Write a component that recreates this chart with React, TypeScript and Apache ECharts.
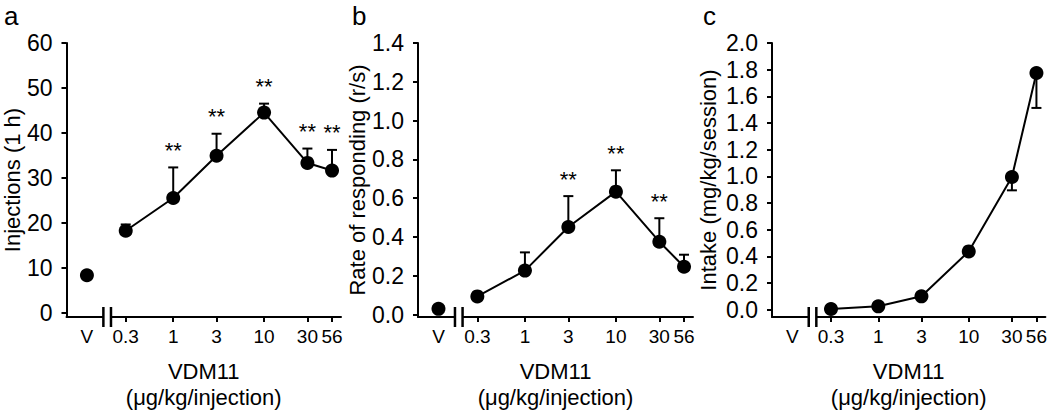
import { useEffect, useRef } from "react";
import * as echarts from "echarts";

// ---- data ----
const doses = [0.3, 1, 3, 10, 30, 56];
const doseLabels = ["0.3", "1", "3", "10", "30", "56"];
const vehicleLabel = "V";
const vehiclePos = -0.95; // position of the vehicle point on the (log10) broken axis
const breakPos = -0.727; // position of the axis break

const injections = [18.2, 25.5, 34.9, 44.5, 33.3, 31.6];
const injectionsSem = [1.4, 6.8, 4.9, 2.0, 3.2, 4.6];
const injectionsVehicle = 8.3;
const injectionsSig = [0, 1, 1, 1, 1, 1];
const injectionsTicks = [0, 10, 20, 30, 40, 50, 60];

const rate = [0.094, 0.227, 0.452, 0.634, 0.376, 0.247];
const rateSem = [0.008, 0.094, 0.159, 0.11, 0.121, 0.062];
const rateVehicle = 0.03;
const rateSig = [0, 0, 1, 1, 1, 0];
const rateTicks = [0, 0.2, 0.4, 0.6, 0.8, 1.0, 1.2, 1.4];

const intake = [0.005, 0.025, 0.1, 0.437, 0.995, 1.775];
const intakeSem = [0, 0, 0, 0, 0.1, 0.262];
const intakeSig = [0, 0, 0, 0, 0, 0];
const intakeTicks = [0, 0.2, 0.4, 0.6, 0.8, 1.0, 1.2, 1.4, 1.6, 1.8, 2.0];

const FONT = '"Liberation Sans", Arial, sans-serif';
const logDoses = doses.map((d) => Math.log10(d));

function xLabel(v: number) {
  if (Math.abs(v - vehiclePos) < 1e-6) return vehicleLabel;
  const i = logDoses.findIndex((l) => Math.abs(l - v) < 1e-6);
  return i >= 0 ? doseLabels[i] : "";
}

function makeXAxis(gridIndex: number) {
  return {
    type: "value",
    gridIndex,
    min: -1.175,
    max: 1.847,
    name: "VDM11\n(μg/kg/injection)",
    nameLocation: "middle",
    nameGap: 41,
    nameTextStyle: { fontSize: 22, lineHeight: 26, color: "#000", fontFamily: FONT },
    axisLine: { show: true, onZero: false, lineStyle: { color: "#000", width: 2 } },
    axisTick: {
      show: true,
      length: 5,
      lineStyle: { color: "#000", width: 2 },
      customValues: logDoses,
    },
    axisLabel: {
      show: true,
      margin: 10,
      fontSize: 19,
      color: "#000",
      fontFamily: FONT,
      customValues: [vehiclePos, ...logDoses],
      formatter: (v: number) => xLabel(v),
    },
    splitLine: { show: false },
  };
}

function makeYAxis(
  gridIndex: number,
  min: number,
  max: number,
  ticks: number[],
  decimals: number,
  name: string,
  nameGap: number
) {
  return {
    type: "value",
    gridIndex,
    min,
    max,
    name,
    nameLocation: "middle",
    nameGap,
    nameTextStyle: { fontSize: 22, color: "#000", fontFamily: FONT },
    axisLine: { show: true, onZero: false, lineStyle: { color: "#000", width: 2 } },
    axisTick: {
      show: true,
      length: 5,
      lineStyle: { color: "#000", width: 2 },
      customValues: ticks,
    },
    axisLabel: {
      show: true,
      margin: 14,
      fontSize: 23,
      color: "#000",
      fontFamily: FONT,
      customValues: ticks,
      formatter: (v: number) => v.toFixed(decimals),
    },
    splitLine: { show: false },
  };
}

function errorSeries(idx: number, means: number[], sems: number[], sig: number[], dir: number) {
  return {
    type: "custom",
    xAxisIndex: idx,
    yAxisIndex: idx,
    z: 1,
    clip: false,
    silent: true,
    encode: { x: 0, y: 1 },
    data: means.map((m, i) => [logDoses[i], m, sems[i], dir, sig[i]]),
    renderItem: (_params: any, api: any) => {
      const x = api.value(0);
      const m = api.value(1);
      const e = api.value(2);
      const d = api.value(3);
      const s = api.value(4);
      const p0 = api.coord([x, m]);
      const p1 = api.coord([x, m + d * e]);
      const children: any[] = [];
      if (e > 0) {
        children.push({
          type: "line",
          shape: { x1: p0[0], y1: p0[1], x2: p1[0], y2: p1[1] },
          style: { stroke: "#000", lineWidth: 2 },
        });
        children.push({
          type: "line",
          shape: { x1: p1[0] - 5, y1: p1[1], x2: p1[0] + 5, y2: p1[1] },
          style: { stroke: "#000", lineWidth: 2 },
        });
      }
      if (s) {
        children.push({
          type: "text",
          x: p1[0],
          y: p1[1] - 6,
          style: {
            text: "**",
            fill: "#000",
            fontSize: 22,
            fontFamily: FONT,
            align: "center",
            verticalAlign: "bottom",
          },
        });
      }
      return { type: "group", children };
    },
  };
}

function breakSeries(idx: number, yMin: number) {
  return {
    type: "custom",
    xAxisIndex: idx,
    yAxisIndex: idx,
    z: 5,
    clip: false,
    silent: true,
    encode: { x: 0, y: 1 },
    data: [[breakPos, yMin]],
    renderItem: (_params: any, api: any) => {
      const p = api.coord([api.value(0), api.value(1)]);
      return {
        type: "group",
        children: [
          {
            type: "rect",
            shape: { x: p[0] - 3.8, y: p[1] - 2, width: 7.6, height: 4 },
            style: { fill: "#fff" },
          },
          {
            type: "line",
            shape: { x1: p[0] - 3.8, y1: p[1] - 10, x2: p[0] - 3.8, y2: p[1] + 10 },
            style: { stroke: "#000", lineWidth: 2.5 },
          },
          {
            type: "line",
            shape: { x1: p[0] + 3.8, y1: p[1] - 10, x2: p[0] + 3.8, y2: p[1] + 10 },
            style: { stroke: "#000", lineWidth: 2.5 },
          },
        ],
      };
    },
  };
}

function lineSeries(idx: number, values: number[]) {
  return {
    type: "line",
    xAxisIndex: idx,
    yAxisIndex: idx,
    z: 3,
    data: values.map((v, i) => [logDoses[i], v]),
    symbol: "circle",
    symbolSize: 14,
    showAllSymbol: true,
    lineStyle: { color: "#000", width: 2 },
    itemStyle: { color: "#000", opacity: 1 },
  };
}

function vehicleSeries(idx: number, v: number) {
  return {
    type: "scatter",
    xAxisIndex: idx,
    yAxisIndex: idx,
    z: 3,
    data: [[vehiclePos, v]],
    symbol: "circle",
    symbolSize: 14,
    itemStyle: { color: "#000", opacity: 1 },
  };
}

export default function App() {
  const ref = useRef<HTMLDivElement>(null);
  useEffect(() => {
    if (!ref.current) return;
    const chart = echarts.init(ref.current, undefined, { renderer: "svg" });
    const option: any = {
      animation: false,
      backgroundColor: "#fff",
      textStyle: { fontFamily: FONT },
      grid: [
        { left: 65, top: 43, width: 276, height: 276 },
        { left: 418, top: 43, width: 275, height: 275 },
        { left: 772, top: 43, width: 276, height: 274 },
      ],
      xAxis: [makeXAxis(0), makeXAxis(1), makeXAxis(2)],
      yAxis: [
        makeYAxis(0, -1, 60, injectionsTicks, 0, "Injections (1 h)", 40),
        makeYAxis(1, -0.012, 1.4, rateTicks, 1, "Rate of responding (r/s)", 49),
        makeYAxis(2, -0.055, 2.0, intakeTicks, 1, "Intake (mg/kg/session)", 53),
      ],
      graphic: [
        { type: "text", left: 4, top: 3, style: { text: "a", fontSize: 26, fill: "#000", fontFamily: FONT } },
        { type: "text", left: 352, top: 3, style: { text: "b", fontSize: 26, fill: "#000", fontFamily: FONT } },
        { type: "text", left: 703, top: 3, style: { text: "c", fontSize: 26, fill: "#000", fontFamily: FONT } },
      ],
      series: [
        errorSeries(0, injections, injectionsSem, injectionsSig, 1),
        lineSeries(0, injections),
        vehicleSeries(0, injectionsVehicle),
        breakSeries(0, -1),
        errorSeries(1, rate, rateSem, rateSig, 1),
        lineSeries(1, rate),
        vehicleSeries(1, rateVehicle),
        breakSeries(1, -0.012),
        errorSeries(2, intake, intakeSem, intakeSig, -1),
        lineSeries(2, intake),
        breakSeries(2, -0.055),
      ],
    };
    chart.setOption(option);
    return () => chart.dispose();
  }, []);
  return (
    <div
      ref={ref}
      style={{ position: "fixed", left: 0, top: 0, width: 1050, height: 415, background: "#fff" }}
    />
  );
}
